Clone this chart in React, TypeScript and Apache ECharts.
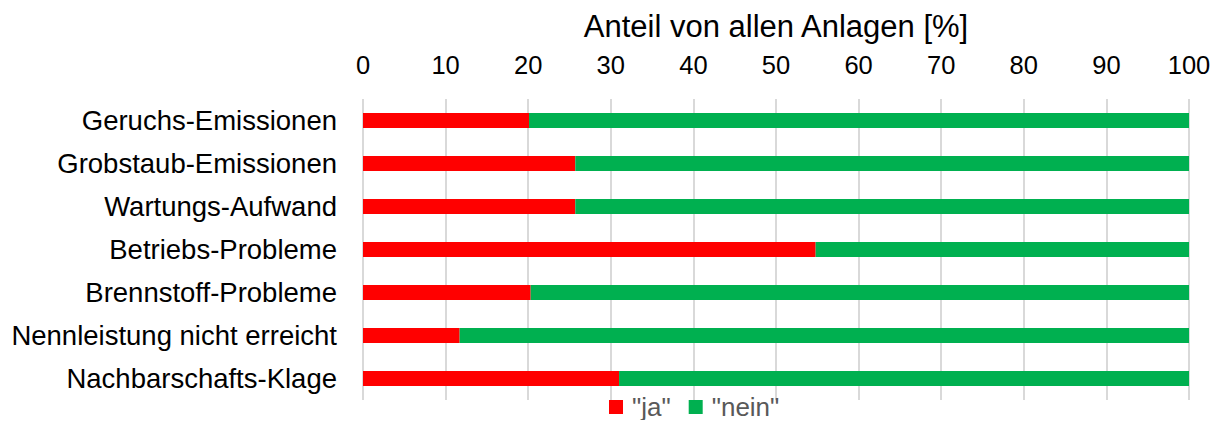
import React, { useEffect, useRef } from "react";
import * as echarts from "echarts";

const categories = [
  "Geruchs-Emissionen",
  "Grobstaub-Emissionen",
  "Wartungs-Aufwand",
  "Betriebs-Probleme",
  "Brennstoff-Probleme",
  "Nennleistung nicht erreicht",
  "Nachbarschafts-Klage",
];
const jaValues = [20.1, 25.7, 25.7, 54.8, 20.3, 11.7, 31.0];
const neinValues = [79.9, 74.3, 74.3, 45.2, 79.7, 88.3, 69.0];
const seriesNames = ['"ja"', '"nein"'];
const axisTitle = "Anteil von allen Anlagen [%]";

const FONT = "Liberation Sans, Arial, sans-serif";

export default function App() {
  const ref = useRef<HTMLDivElement>(null);
  useEffect(() => {
    if (!ref.current) return;
    const chart = echarts.init(ref.current, null, { renderer: "svg" });
    chart.setOption({
      animation: false,
      backgroundColor: "#ffffff",
      grid: { left: 363, right: 34, top: 99, bottom: 28 },
      legend: {
        data: seriesNames,
        left: 604,
        bottom: 3,
        icon: "rect",
        itemWidth: 14,
        itemHeight: 14,
        itemGap: 18,
        textStyle: {
          fontFamily: FONT,
          fontSize: 26,
          color: "#595959",
          padding: [0, 0, 0, 4],
        },
      },
      xAxis: {
        type: "value",
        position: "top",
        min: 0,
        max: 100,
        interval: 10,
        name: axisTitle,
        nameLocation: "middle",
        nameGap: 57,
        nameTextStyle: { fontFamily: FONT, fontSize: 31, color: "#000000" },
        axisLine: { show: false },
        axisTick: { show: false },
        axisLabel: { fontFamily: FONT, fontSize: 25.5, color: "#000000", margin: 21 },
        splitLine: { show: true, lineStyle: { color: "#d9d9d9", width: 2 } },
      },
      yAxis: {
        type: "category",
        data: categories,
        inverse: true,
        axisLine: { show: false },
        axisTick: { show: false },
        axisLabel: { fontFamily: FONT, fontSize: 27.5, color: "#000000", margin: 26 },
      },
      series: [
        {
          name: seriesNames[0],
          type: "bar",
          stack: "total",
          data: jaValues,
          barWidth: 15,
          itemStyle: { color: "#ff0000" },
        },
        {
          name: seriesNames[1],
          type: "bar",
          stack: "total",
          data: neinValues,
          barWidth: 15,
          itemStyle: { color: "#00b050" },
        },
      ],
    });
    return () => chart.dispose();
  }, []);
  return <div ref={ref} style={{ width: 1223, height: 428, margin: -8 }} />;
}
